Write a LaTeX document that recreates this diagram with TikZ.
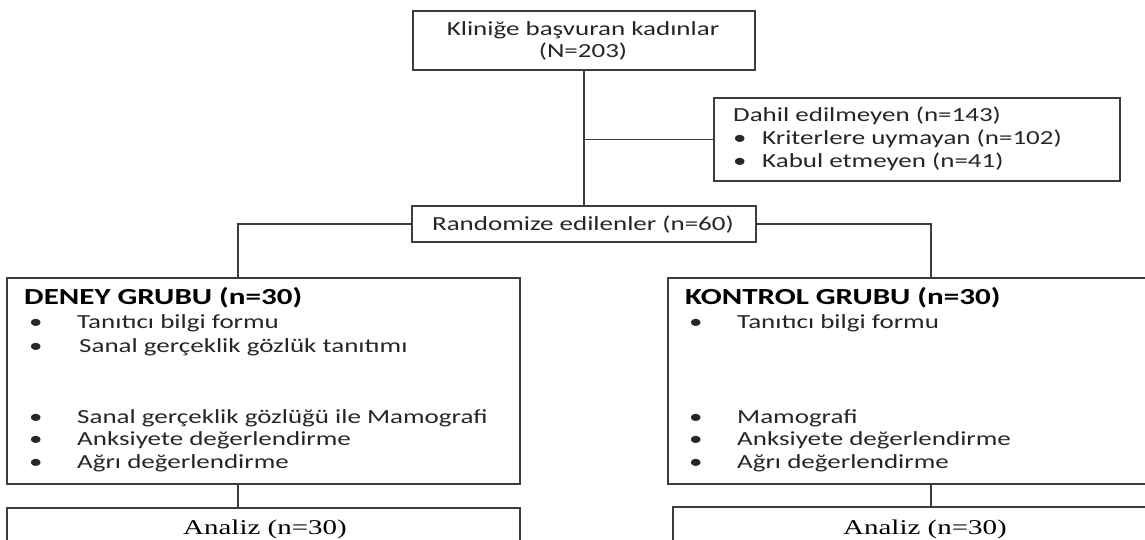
\documentclass[tikz,border=0pt]{standalone}
\usepackage{fontspec}
\setmainfont{Carlito}[FakeStretch=1.35]
\newfontfamily\timesf{Liberation Serif}[FakeStretch=1.38]
\definecolor{ln}{HTML}{3C3C3C}
\definecolor{tx}{HTML}{262626}
\begin{document}
\begin{tikzpicture}[x=1pt,y=-1pt,
  box/.style={draw=ln,line width=1.9pt,inner sep=0pt,fill=white},
  conn/.style={draw=ln,line width=1.9pt},
  txt/.style={inner sep=0pt,anchor=base west,text=tx,font=\fontsize{20}{24}\selectfont},
  ctxt/.style={txt,anchor=base},
  head/.style={inner sep=0pt,anchor=base west,text=black,font=\fontsize{23}{27}\selectfont\bfseries},
  atxt/.style={inner sep=0pt,anchor=base,text=black,font=\timesf\fontsize{21}{25}\selectfont}]
\useasboundingbox (0,0) rectangle (1145,539);
% boxes
\node[box,minimum width=342pt,minimum height=59pt] (top) at (584,40.5) {};
\node[box,minimum width=406pt,minimum height=83pt] (dahil) at (917,139.5) {};
\node[box,minimum width=344pt,minimum height=36pt] (rand) at (584,224) {};
\node[box,minimum width=513pt,minimum height=206pt] (deney) at (263.5,381) {};
\node[box,minimum width=513pt,minimum height=206pt] (kontrol) at (924.5,381) {};
\node[box,minimum width=513pt,minimum height=52pt] (anL) at (263.5,534) {};
\node[box,minimum width=504pt,minimum height=53pt] (anR) at (925,533.5) {};
% connector points
\coordinate (j) at (top.south |- dahil.west);
\coordinate (dl) at (238,278);
\coordinate (dr) at (931,278);
\draw[conn] (top.south) -- (rand.north);
\draw[conn] (j) -- (dahil.west);
\draw[conn] (rand.west) -| (dl);
\draw[conn] (rand.east) -| (dr);
\draw[conn] (deney.south -| dl) -- (anL.north -| dl);
\draw[conn] (kontrol.south -| dr) -- (anR.north -| dr);
% texts
\node[ctxt] (t1) at (583,35) {Kliniğe başvuran kadınlar};
\node[ctxt] (t2) at (583,57) {(N=203)};
\node[txt] (d0) at (733,121) {Dahil edilmeyen (n=143)};
\node[txt] (d1b) at (733,144) {•};
\node[txt] (d1) at (762,144) {Kriterlere uymayan (n=102)};
\node[txt] (d2b) at (733,167) {•};
\node[txt] (d2) at (762,167) {Kabul etmeyen (n=41)};
\node[ctxt] (r0) at (583,230) {Randomize edilenler (n=60)};
% deney
\node[head] (h1) at (24,304) {DENEY GRUBU (n=30)};
\node[txt] (e1b) at (29,328) {•}; \node[txt] (e1) at (77,328) {Tanıtıcı bilgi formu};
\node[txt] (e2b) at (29,352) {•}; \node[txt] (e2) at (79,352) {Sanal gerçeklik gözlük tanıtımı};
\node[txt] (e3b) at (29,423) {•}; \node[txt] (e3) at (77,423) {Sanal gerçeklik gözlüğü ile Mamografi};
\node[txt] (e4b) at (29,445) {•}; \node[txt] (e4) at (77,445) {Anksiyete değerlendirme};
\node[txt] (e5b) at (29,468) {•}; \node[txt] (e5) at (77,468) {Ağrı değerlendirme};
% kontrol
\node[head] (h2) at (685,304) {KONTROL GRUBU (n=30)};
\node[txt] (k1b) at (689,328) {•}; \node[txt] (k1) at (737,328) {Tanıtıcı bilgi formu};
\node[txt] (k3b) at (689,423) {•}; \node[txt] (k3) at (737,423) {Mamografi};
\node[txt] (k4b) at (689,445) {•}; \node[txt] (k4) at (737,445) {Anksiyete değerlendirme};
\node[txt] (k5b) at (689,468) {•}; \node[txt] (k5) at (737,468) {Ağrı değerlendirme};
% analiz
\node[atxt] (a1) at (265,534) {Analiz (n=30)};
\node[atxt] (a2) at (925,534) {Analiz (n=30)};
\end{tikzpicture}
\end{document}
